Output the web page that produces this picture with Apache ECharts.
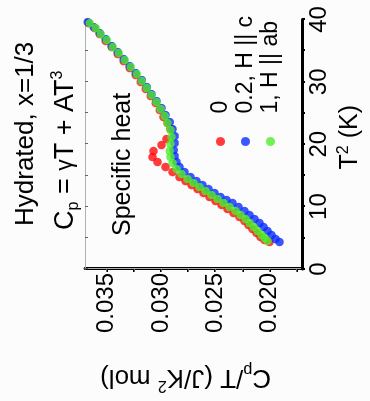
<!DOCTYPE html>
<html>
<head>
<meta charset="utf-8">
<script src="https://cdn.jsdelivr.net/npm/echarts@6/dist/echarts.min.js"></script>
<style>
  html, body { margin: 0; padding: 0; width: 370px; height: 401px; overflow: hidden; background: #fcfcfc; }
  /* the figure is drawn upright (401 x 370) and turned a quarter turn, like the scan */
  #chart {
    position: absolute; left: 0; top: 0;
    width: 401px; height: 370px;
    transform-origin: 0 0;
    transform: translate(0, 401px) rotate(-90deg);
  }
</style>
</head>
<body>
<div id="chart"></div>
<script>
// T^2 (K) and Cp/T (J/K^2 mol)
const t2Zero = [39.42, 38.62, 37.66, 36.54, 35.58, 34.46, 33.33, 32.21, 31.09, 29.97, 28.85, 27.72, 26.60, 25.48, 24.36, 23.40, 22.44, 20.83, 19.87, 18.91, 17.95, 17.15, 16.35, 15.54, 14.74, 14.10, 13.46, 12.82, 12.18, 11.54, 10.90, 10.26, 9.62, 8.97, 8.33, 7.69, 7.05, 6.41, 5.77, 5.13, 4.65, 4.33];
const cpZero = [0.03666, 0.03610, 0.03564, 0.03509, 0.03454, 0.03399, 0.03344, 0.03288, 0.03233, 0.03187, 0.03141, 0.03095, 0.03049, 0.03012, 0.02976, 0.02939, 0.02911, 0.02948, 0.02994, 0.03068, 0.03077, 0.03031, 0.02957, 0.02893, 0.02828, 0.02773, 0.02718, 0.02663, 0.02607, 0.02552, 0.02497, 0.02442, 0.02387, 0.02331, 0.02276, 0.02230, 0.02194, 0.02157, 0.02120, 0.02083, 0.02046, 0.02000];

const t2Hc = [39.58, 38.78, 37.82, 36.86, 35.74, 34.78, 33.65, 32.53, 31.41, 30.29, 29.17, 28.04, 26.92, 25.80, 24.68, 23.56, 22.44, 21.31, 20.19, 19.07, 18.11, 17.15, 16.35, 15.54, 14.74, 14.10, 13.46, 12.82, 12.18, 11.54, 11.06, 10.58, 9.94, 9.29, 8.65, 8.01, 7.37, 6.73, 6.09, 5.45, 4.81, 4.33];
const cpHc = [0.03675, 0.03620, 0.03564, 0.03509, 0.03454, 0.03399, 0.03344, 0.03288, 0.03233, 0.03178, 0.03132, 0.03086, 0.03040, 0.02994, 0.02957, 0.02920, 0.02893, 0.02874, 0.02874, 0.02883, 0.02874, 0.02856, 0.02828, 0.02782, 0.02727, 0.02672, 0.02617, 0.02561, 0.02506, 0.02451, 0.02396, 0.02341, 0.02285, 0.02230, 0.02184, 0.02138, 0.02092, 0.02055, 0.02018, 0.01982, 0.01945, 0.01908];

const t2Hab = [39.42, 38.62, 37.66, 36.70, 35.58, 34.62, 33.49, 32.37, 31.25, 30.13, 29.01, 27.88, 26.76, 25.64, 24.52, 23.40, 22.28, 21.15, 20.03, 18.91, 17.95, 16.99, 16.03, 15.22, 14.42, 13.78, 13.14, 12.50, 11.86, 11.22, 10.58, 9.94, 9.29, 8.65, 8.01, 7.37, 6.73, 6.09, 5.45, 4.97, 4.49];
const cpHab = [0.03656, 0.03601, 0.03555, 0.03500, 0.03445, 0.03390, 0.03334, 0.03279, 0.03224, 0.03178, 0.03132, 0.03086, 0.03040, 0.03003, 0.02966, 0.02939, 0.02911, 0.02902, 0.02911, 0.02920, 0.02911, 0.02893, 0.02856, 0.02810, 0.02755, 0.02699, 0.02644, 0.02589, 0.02534, 0.02479, 0.02423, 0.02368, 0.02313, 0.02267, 0.02221, 0.02184, 0.02147, 0.02111, 0.02074, 0.02046, 0.02019];

const seriesNames = ['0', '0.2, H || c', '1, H || ab'];
const cpLabels = [0.020, 0.025, 0.030, 0.035];
const cpTicks = [0.0175, 0.020, 0.0225, 0.025, 0.0275, 0.030, 0.0325, 0.035];

const font = '"Liberation Sans", Arial, sans-serif';
const zip = (xs, ys) => xs.map((x, i) => [x, ys[i]]);

const chart = echarts.init(document.getElementById('chart'), null, { renderer: 'canvas' });

const plain = { fontWeight: 'normal', fontFamily: font, color: '#000' };
const sub = { ...plain, fontSize: 16, lineHeight: 16, verticalAlign: 'bottom' };
const sup = { ...plain, fontSize: 16, lineHeight: 16, verticalAlign: 'top' };

chart.setOption({
  backgroundColor: '#fcfcfc',
  animation: false,
  color: ['#ff0a0a', '#0a2cff', '#4fee2a'],
  title: [
    {
      text: 'Hydrated, x=1/3',
      left: 170, top: 8,
      textStyle: { ...plain, fontSize: 26 },
    },
    {
      text: '{a|C}{s|p}{a| = }{g|γ}{a|T + AT}{u|3}',
      left: 166, top: 45,
      textStyle: {
        fontWeight: 'normal',
        rich: {
          a: { ...plain, fontSize: 27, lineHeight: 32 },
          g: { ...plain, fontSize: 23, lineHeight: 32 },
          s: sub,
          u: sup,
        },
      },
    },
    {
      text: 'Specific heat',
      left: 160, top: 106,
      textStyle: { ...plain, fontSize: 25 },
    },
  ],
  legend: {
    orient: 'vertical',
    left: 255, top: 209,
    padding: 0,
    itemGap: 2,
    icon: 'circle',
    itemWidth: 46, itemHeight: 9,
    data: seriesNames,
    textStyle: { fontSize: 23, color: '#000', fontFamily: font },
  },
  grid: { left: 132, right: 19.5, top: 85, bottom: 68 },
  xAxis: [
    {
      type: 'value', position: 'bottom',
      min: 0, max: 40, interval: 10,
      name: '{a|T}{u|2}{a| (K)}',
      nameLocation: 'middle', nameGap: 34,
      nameTextStyle: {
        padding: [0, 0, 0, 14],
        rich: { a: { ...plain, fontSize: 25, lineHeight: 28 }, u: sup },
      },
      axisLine: { lineStyle: { color: '#000', width: 3 } },
      axisTick: { inside: false, length: 3, lineStyle: { color: '#000', width: 2 } },
      minorTick: { show: true, splitNumber: 2, length: 3, lineStyle: { color: '#000', width: 2 } },
      axisLabel: { fontSize: 24, color: '#000', fontFamily: font, margin: 5 },
      splitLine: { show: false },
    },
    {
      type: 'value', position: 'top',
      min: 0, max: 40, interval: 10,
      axisLine: { show: true, lineStyle: { color: '#b0b0b0', width: 1 } },
      axisTick: { inside: true, length: 3, lineStyle: { color: '#666' } },
      minorTick: { show: true, splitNumber: 2, length: 3, lineStyle: { color: '#666' } },
      axisLabel: { show: false },
      splitLine: { show: false },
    },
  ],
  yAxis: [
    {
      type: 'value', position: 'left',
      min: 0.017, max: 0.037,
      name: '{a|C}{s|p}{a|/T (J/K}{u|2}{a| mol)}',
      nameLocation: 'middle', nameGap: 92,
      nameTextStyle: {
        padding: [0, 0, 0, 16],
        rich: { a: { ...plain, fontSize: 26, lineHeight: 32 }, s: sub, u: sup },
      },
      axisLine: { show: true, lineStyle: { color: '#000', width: 3 } },
      axisTick: { show: true, inside: false, length: 3, customValues: cpTicks, lineStyle: { color: '#000', width: 2 } },
      axisLabel: {
        customValues: cpLabels,
        fontSize: 24, color: '#000', fontFamily: font, margin: 4,
        formatter: (v) => v.toFixed(3),
      },
      splitLine: { show: false },
    },
    {
      type: 'value', position: 'right',
      min: 0.017, max: 0.037,
      axisLine: { show: true, lineStyle: { color: '#b0b0b0', width: 1 } },
      axisTick: { show: true, inside: true, length: 3, customValues: cpTicks, lineStyle: { color: '#666' } },
      axisLabel: { show: false },
      splitLine: { show: false },
    },
  ],
  series: [
    { name: seriesNames[0], type: 'scatter', symbolSize: 8.5, data: zip(t2Zero, cpZero) },
    { name: seriesNames[1], type: 'scatter', symbolSize: 8.5, data: zip(t2Hc, cpHc) },
    { name: seriesNames[2], type: 'scatter', symbolSize: 8.5, data: zip(t2Hab, cpHab) },
  ],
});
</script>
</body>
</html>
